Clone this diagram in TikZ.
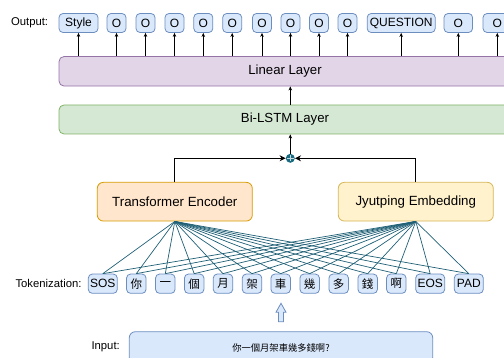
\documentclass[tikz,border=0pt]{standalone}
\usepackage{fontspec}
\setmainfont{Liberation Sans}
\newfontfamily\cjk{Noto Sans CJK TC}
\usetikzlibrary{arrows.meta,calc}
\definecolor{bfill}{HTML}{DAE8FC}
\definecolor{bdraw}{HTML}{6C8EBF}
\definecolor{pfill}{HTML}{E1D5E7}
\definecolor{pdraw}{HTML}{9673A6}
\definecolor{gfill}{HTML}{D5E8D4}
\definecolor{gdraw}{HTML}{82B366}
\definecolor{ofill}{HTML}{FFE6CC}
\definecolor{odraw}{HTML}{D79B00}
\definecolor{yfill}{HTML}{FFF2CC}
\definecolor{ydraw}{HTML}{D6B656}
\definecolor{fan}{HTML}{1F5F75}
\definecolor{dot}{HTML}{1A6B80}
\begin{document}
\begin{tikzpicture}[x=1pt,y=-1pt,
  tok/.style={draw=bdraw,fill=bfill,rounded corners=4pt,minimum height=19.3pt,inner sep=0pt,line width=0.8pt,font=\fontsize{12}{14}\selectfont},
  ctok/.style={tok,minimum width=19.5pt,font=\cjk\fontsize{11.5}{14}\selectfont},
  ltok/.style={tok,minimum width=29pt},
  outbox/.style={tok,minimum height=19pt},
  layer/.style={rounded corners=5pt,minimum width=452pt,inner sep=0pt,line width=0.8pt,font=\fontsize{13.2}{15}\selectfont},
  module/.style={rounded corners=6pt,minimum width=155pt,minimum height=38.7pt,inner sep=0pt,line width=0.8pt,font=\fontsize{13.3}{15}\selectfont},
  lbl/.style={anchor=east,inner sep=0pt,font=\fontsize{11.3}{13}\selectfont},
  up/.style={line width=0.8pt,-{Stealth[length=4pt,width=3.5pt]}},
  joinarr/.style={line width=0.8pt,-{Stealth[length=6pt,width=6pt,inset=2pt]}},
  fanline/.style={draw=fan,line width=0.7pt}
]
\useasboundingbox (0,0) rectangle (504,358);
\clip (0,0) rectangle (504,358);

% output row
\node[lbl] (outlbl) at (48.3,23) {Output:};
\node[outbox,minimum width=39pt] (o1) at (78.5,23) {Style};
\node[outbox,minimum width=19pt] (o2) at (116.5,23) {O};
\node[outbox,minimum width=19pt] (o3) at (145.5,23) {O};
\node[outbox,minimum width=19pt] (o4) at (174.5,23) {O};
\node[outbox,minimum width=19pt] (o5) at (203.3,23) {O};
\node[outbox,minimum width=19pt] (o6) at (232.2,23) {O};
\node[outbox,minimum width=19pt] (o7) at (262,23) {O};
\node[outbox,minimum width=19pt] (o8) at (290.5,23) {O};
\node[outbox,minimum width=19pt] (o9) at (319,23) {O};
\node[outbox,minimum width=19pt] (o10) at (347.5,23) {O};
\node[outbox,minimum width=68pt] (o11) at (401.2,23) {QUESTION};
\node[outbox,minimum width=28.5pt] (o12) at (458.3,23) {O};
\node[outbox,minimum width=28.5pt] (o13) at (497.3,23) {O};

% layers
\node[layer,draw=pdraw,fill=pfill,minimum height=29.5pt] (linear) at (285,71.3) {Linear Layer};
\node[layer,draw=gdraw,fill=gfill,minimum height=29pt] (bilstm) at (285,119.5) {Bi-LSTM Layer};

\foreach \i in {1,...,13}{
  \draw[up] (linear.north -| o\i.south) -- (o\i.south);
}

% modules
\node[module,draw=odraw,fill=ofill] (trans) at (174.8,201.7) {Transformer Encoder};
\node[module,draw=ydraw,fill=yfill] (jyut) at (415.8,201.7) {Jyutping Embedding};

% combine
\node[circle,fill=dot,minimum size=9pt,inner sep=0pt] (plus) at (290.3,158.3) {};
\draw[white!75!dot,line width=1pt] ($(plus)+(-3.2,0)$) -- ($(plus)+(3.2,0)$);
\draw[white!75!dot,line width=1pt] ($(plus)+(0,-3.2)$) -- ($(plus)+(0,3.2)$);

\draw[up] (plus.north) -- (bilstm.south -| plus);
\draw[up] (bilstm.north -| plus) -- (linear.south -| plus);
\draw[joinarr] (trans.north) |- (plus.west);
\draw[joinarr] (jyut.north) |- (plus.east);

% tokens
\node[lbl] (toklbl) at (81.7,283.7) {Tokenization:};
\node[ltok] (t1) at (102.8,283.7) {SOS};
\node[ctok] (t2) at (136.3,283.7) {你};
\node[ctok] (t3) at (165.3,283.7) {一};
\node[ctok] (t4) at (194.2,283.7) {個};
\node[ctok] (t5) at (223,283.7) {月};
\node[ctok] (t6) at (252,283.7) {架};
\node[ctok] (t7) at (280.7,283.7) {車};
\node[ctok] (t8) at (309.7,283.7) {幾};
\node[ctok] (t9) at (338.7,283.7) {多};
\node[ctok] (t10) at (367.7,283.7) {錢};
\node[ctok] (t11) at (396.3,283.7) {啊};
\node[ltok] (t12) at (430.2,283.7) {EOS};
\node[ltok] (t13) at (468.8,283.7) {PAD};

\foreach \i in {1,...,13}{
  \draw[fanline] (trans.south) -- (t\i.north);
  \draw[fanline] (jyut.south) -- (t\i.north);
}

% input
\node[lbl] (inlbl) at (120,346.5) {Input:};
\node[draw=bdraw,fill=bfill,rounded corners=6pt,minimum width=303.4pt,minimum height=32pt,inner sep=0pt,line width=0.8pt,font=\cjk\fontsize{9.3}{11}\selectfont] (input) at (281,347.7) {你一個月架車幾多錢啊?};

% hollow block arrow
\coordinate (ab) at (281,321.7);
\draw[draw=bdraw,fill=bfill,line width=0.8pt,line join=miter]
  ($(ab)+(-2.5,0)$) -- ($(ab)+(-2.5,-9.5)$) -- ($(ab)+(-5,-9.5)$) -- ($(ab)+(0,-18.4)$)
  -- ($(ab)+(5,-9.5)$) -- ($(ab)+(2.5,-9.5)$) -- ($(ab)+(2.5,0)$) -- cycle;
\end{tikzpicture}
\end{document}
